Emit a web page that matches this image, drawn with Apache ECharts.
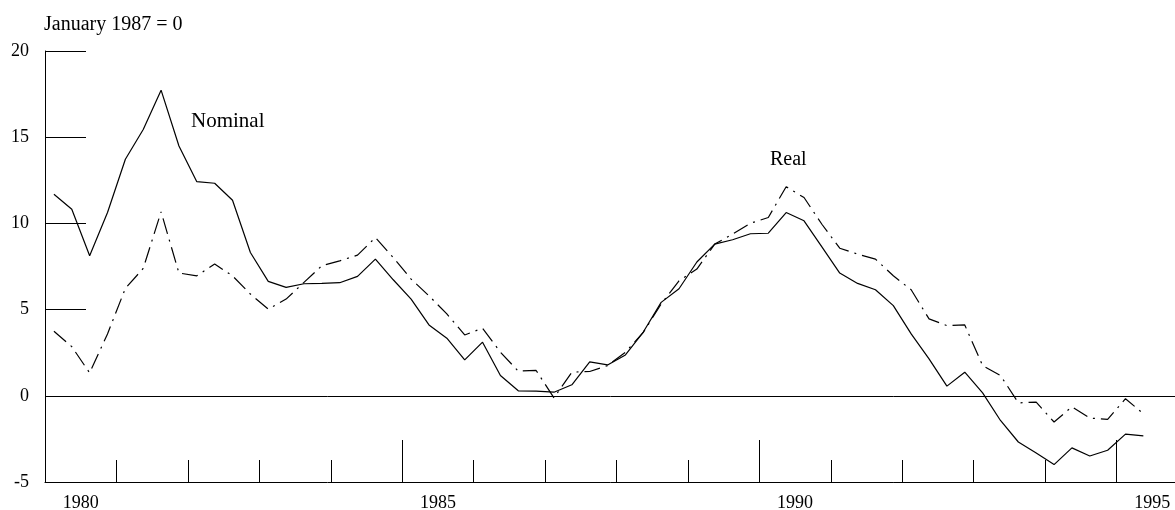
<!DOCTYPE html>
<html>
<head>
<meta charset="utf-8">
<script src="https://cdn.jsdelivr.net/npm/echarts@6/dist/echarts.min.js"></script>
<style>
html,body{margin:0;padding:0;background:#fff;}
#chart{width:1175px;height:510px;}
</style>
</head>
<body>
<div id="chart"></div>
<script>
// ---- data (quarterly, 1980Q1 .. 1995Q2), January 1987 = 0 ----
var startYear = 1980;
var quarters = [];
for (var y = 1980; y <= 1995; y++) { for (var q = 1; q <= 4; q++) { quarters.push(y + 'Q' + q); } }
quarters = quarters.slice(0, 62);

var nominal = [11.69, 10.82, 8.12, 10.63, 13.72, 15.45, 17.73, 14.49, 12.42, 12.33,
  11.34, 8.31, 6.64, 6.29, 6.50, 6.52, 6.56, 6.93, 7.93, 6.73,
  5.61, 4.11, 3.34, 2.08, 3.11, 1.18, 0.29, 0.27, 0.21, 0.64,
  1.97, 1.79, 2.37, 3.70, 5.42, 6.21, 7.76, 8.80, 9.05, 9.40,
  9.43, 10.63, 10.15, 8.64, 7.12, 6.52, 6.15, 5.23, 3.59, 2.14,
  0.56, 1.37, 0.17, -1.43, -2.68, -3.32, -3.99, -3.02, -3.49, -3.16,
  -2.22, -2.32];

var real = [3.74, 2.85, 1.33, 3.59, 6.23, 7.39, 10.67, 7.12, 6.96, 7.64,
  6.96, 5.90, 5.03, 5.61, 6.58, 7.54, 7.83, 8.16, 9.18, 8.02,
  6.77, 5.80, 4.75, 3.53, 3.92, 2.53, 1.43, 1.47, -0.12, 1.37,
  1.41, 1.75, 2.53, 3.68, 5.32, 6.67, 7.35, 8.80, 9.38, 10.01,
  10.34, 12.13, 11.50, 9.95, 8.56, 8.22, 7.93, 6.96, 6.15, 4.46,
  4.07, 4.11, 1.75, 1.18, -0.41, -0.37, -1.52, -0.64, -1.29, -1.37,
  -0.17, -1.04];

var yearLabels = ['1980', '1985', '1990', '1995'];
var yTicks = [-5, 0, 5, 10, 15, 20];

function qPos(i) { return startYear + (i + 0.5) / 4; }
var nominalData = nominal.map(function (v, i) { return [qPos(i), v]; });
var realData = real.map(function (v, i) { return [qPos(i), v]; });

var FONT = '"Liberation Serif", "Times New Roman", serif';
var chart = echarts.init(document.getElementById('chart'));

chart.setOption({
  animation: false,
  backgroundColor: '#fff',
  title: {
    text: 'January 1987 = 0',
    left: 39, top: 10,
    textStyle: { fontFamily: FONT, fontSize: 20, fontWeight: 'normal', color: '#000' }
  },
  grid: { left: 45, right: -13, top: 51, bottom: 28, outerBoundsMode: 'none', containLabel: false },
  xAxis: [
    { // yearly short ticks + axis line
      type: 'value', min: 1980, max: 1996, interval: 1,
      axisLine: { show: true, onZero: false, lineStyle: { color: '#000', width: 1 } },
      axisTick: { show: true, inside: true, length: 22, lineStyle: { color: '#000', width: 1 } },
      axisLabel: { show: false },
      splitLine: { show: false }
    },
    { // five-year long ticks
      type: 'value', min: 1980, max: 1996, interval: 5, position: 'bottom',
      axisLine: { show: false, onZero: false },
      axisTick: { show: true, inside: true, length: 42, lineStyle: { color: '#000', width: 1 } },
      axisLabel: { show: false },
      splitLine: { show: false }
    },
    { // labels centred inside each labelled year
      type: 'value', min: 1980, max: 1996, interval: 0.5, position: 'bottom',
      axisLine: { show: false, onZero: false },
      axisTick: { show: false },
      splitLine: { show: false },
      axisLabel: {
        show: true, margin: 12, fontFamily: FONT, fontSize: 18, color: '#000',
        showMinLabel: true, showMaxLabel: false,
        formatter: function (v) {
          var y = Math.round(v - 0.5);
          var s = String(y);
          return (Math.abs(v - 0.5 - y) < 1e-6 && yearLabels.indexOf(s) >= 0) ? s : '';
        }
      }
    }
  ],
  yAxis: {
    type: 'value', min: -5, max: 20, interval: 5,
    axisLine: { show: true, onZero: false, lineStyle: { color: '#000', width: 1 } },
    axisTick: { show: true, inside: true, length: 41, lineStyle: { color: '#000', width: 1 } },
    axisLabel: {
      margin: 16, fontFamily: FONT, fontSize: 18, color: '#000',
      formatter: function (v) { return yTicks.indexOf(v) >= 0 ? String(v) : ''; }
    },
    splitLine: { show: false }
  },
  series: [
    {
      name: 'Nominal', type: 'line', xAxisIndex: 0, data: nominalData,
      symbol: 'none', clip: false,
      lineStyle: { color: '#000', width: 1.2, type: 'solid' },
      markLine: {
        silent: true, symbol: 'none', label: { show: false },
        lineStyle: { color: '#000', width: 1, type: 'solid' },
        data: [{ yAxis: 0 }]
      }
    },
    {
      name: 'Real', type: 'line', xAxisIndex: 0, data: realData,
      symbol: 'none', clip: false,
      lineStyle: { color: '#000', width: 1.2, type: [16, 6, 2, 6] }
    }
  ],
  graphic: [
    { type: 'text', left: 191, top: 111,
      style: { text: 'Nominal', font: '21px ' + FONT, fill: '#000' } },
    { type: 'text', left: 770, top: 150,
      style: { text: 'Real', font: '20px ' + FONT, fill: '#000' } }
  ]
});
</script>
</body>
</html>
